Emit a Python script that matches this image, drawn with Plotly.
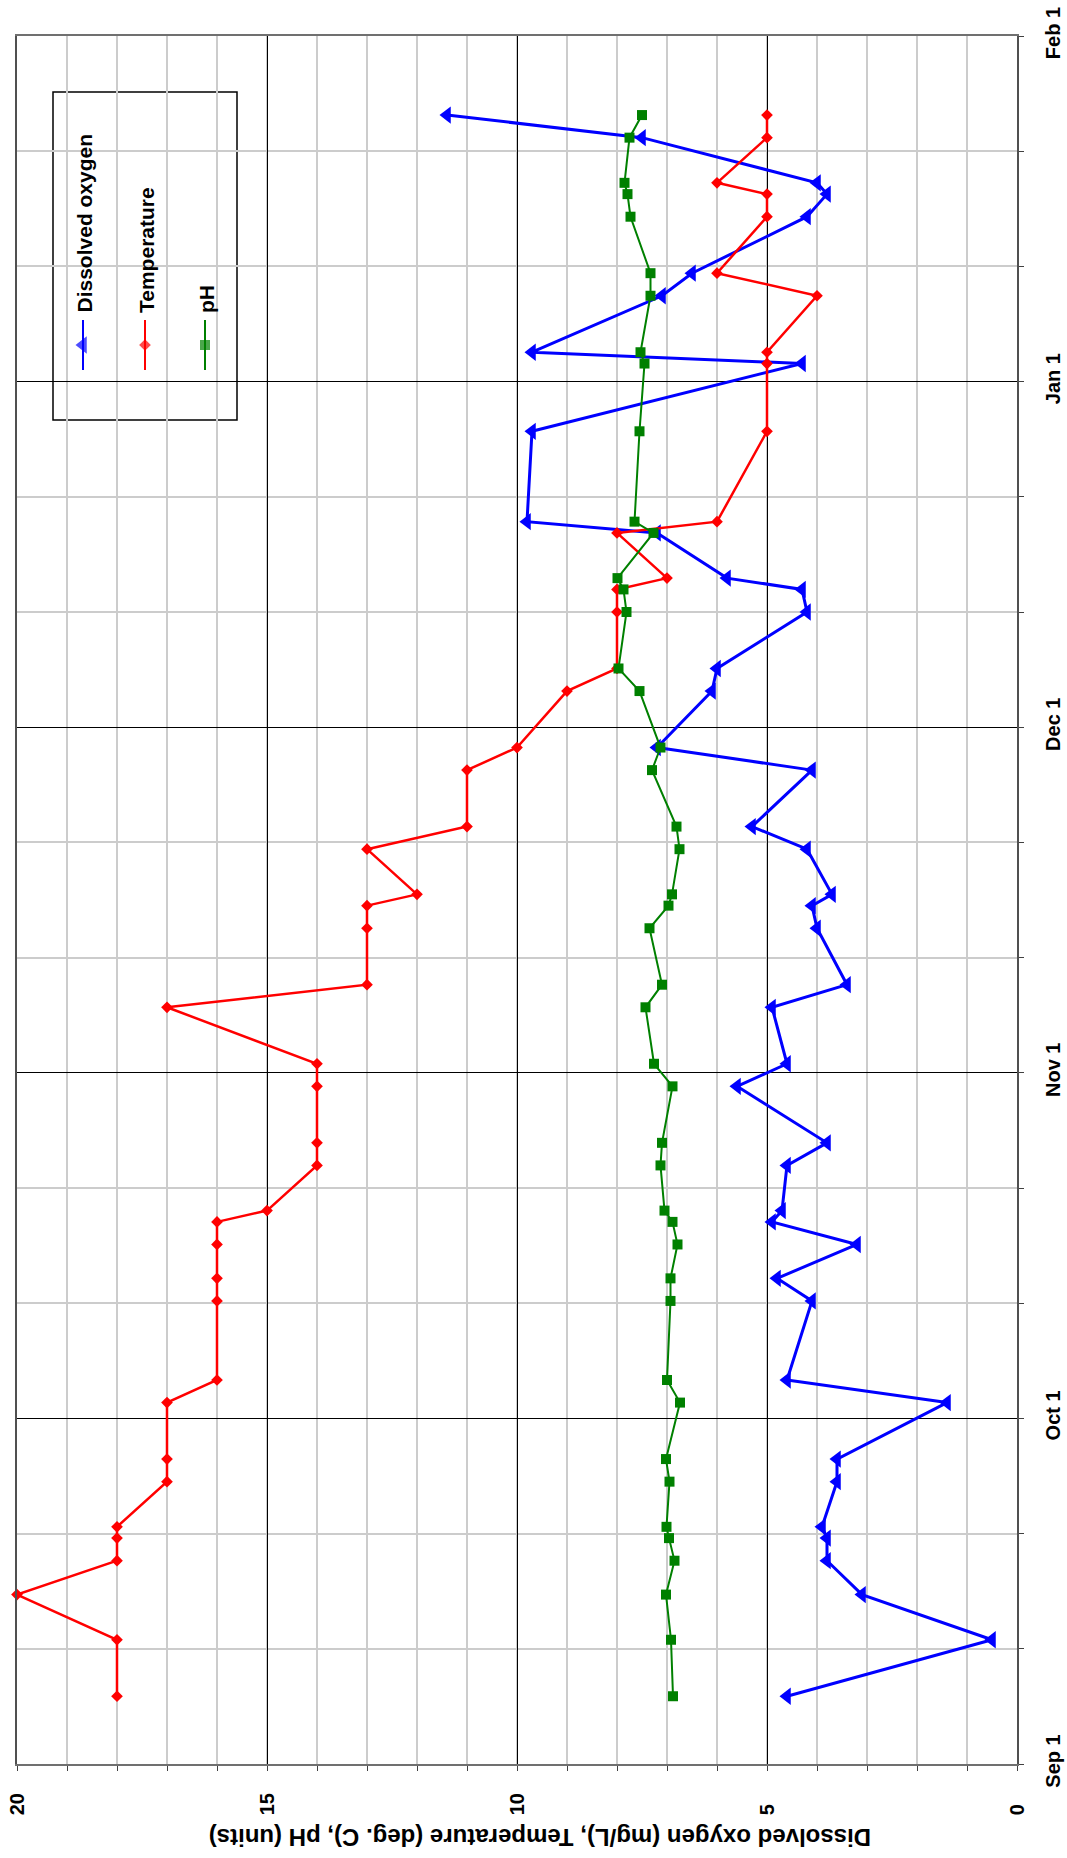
import datetime as dt
import plotly.graph_objects as go

# Sampling dates and field measurements
SAMPLE_DATES = [
    "2004-09-07", "2004-09-12", "2004-09-16", "2004-09-19", "2004-09-21",
    "2004-09-22", "2004-09-26", "2004-09-28", "2004-10-03", "2004-10-05",
    "2004-10-12", "2004-10-14", "2004-10-17", "2004-10-19", "2004-10-20",
    "2004-10-24", "2004-10-26", "2004-10-31", "2004-11-02", "2004-11-07",
    "2004-11-09", "2004-11-14", "2004-11-16", "2004-11-17", "2004-11-21",
    "2004-11-23", "2004-11-28", "2004-11-30", "2004-12-05", "2004-12-07",
    "2004-12-12", "2004-12-14", "2004-12-15", "2004-12-19", "2004-12-20",
    "2004-12-28", "2005-01-03", "2005-01-04", "2005-01-09", "2005-01-11",
    "2005-01-16", "2005-01-18", "2005-01-19", "2005-01-23", "2005-01-25",
]

DISSOLVED_OXYGEN = [
    4.6, 0.5, 3.1, 3.8, 3.8, 3.9, 3.6, 3.6, 1.4, 4.6,
    4.1, 4.8, 3.2, 4.9, 4.7, 4.6, 3.8, 5.6, 4.6, 4.9,
    3.4, 4.0, 4.1, 3.7, 4.2, 5.3, 4.1, 7.2, 6.1, 6.0,
    4.2, 4.3, 5.8, 7.2, 9.8, 9.7, 4.3, 9.7, 7.1, 6.5,
    4.2, 3.8, 4.0, 7.5, 11.4,
]

TEMPERATURE = [
    18, 18, 20, 18, 18, 18, 17, 17, 17, 16,
    16, 16, 16, 16, 15, 14, 14, 14, 14, 17,
    13, 13, 13, 12, 13, 11, 11, 10, 9, 8,
    8, 8, 7, 8, 6, 5, 5, 5, 4, 6,
    5, 5, 6, 5, 5,
]

PH = [
    6.88, 6.92, 7.02, 6.85, 6.96, 7.01, 6.95, 7.02, 6.74, 7.00,
    6.93, 6.93, 6.79, 6.89, 7.05, 7.13, 7.10, 6.89, 7.26, 7.43,
    7.10, 7.35, 6.97, 6.90, 6.75, 6.81, 7.30, 7.13, 7.55, 7.97,
    7.81, 7.87, 7.99, 7.27, 7.65, 7.55, 7.45, 7.53, 7.33, 7.33,
    7.73, 7.79, 7.85, 7.75, 7.50,
]

DATE_TICK_LABELS = ["Sep 1", "Oct 1", "Nov 1", "Dec 1", "Jan 1", "Feb 1"]
VALUE_TICKS = [0, 5, 10, 15, 20]
AXIS_START = "2004-09-01"
AXIS_END = "2005-02-01"

SERIES = [
    ("Dissolved oxygen", DISSOLVED_OXYGEN, "#0000ff", "triangle-left", 15, 3),
    ("Temperature", TEMPERATURE, "#ff0000", "diamond", 9, 2.5),
    ("pH", PH, "#008000", "square", 10, 2),
]

FONT = "Liberation Sans, Arial, Helvetica, sans-serif"
W, H = 1067, 1858
L, R, T, B = 17, 50, 36, 94

# Date axis divided into 5 major and 15 minor equal intervals
start = dt.datetime.fromisoformat(AXIS_START)
end = dt.datetime.fromisoformat(AXIS_END)
span = end - start
fmt = "%Y-%m-%d %H:%M:%S"
major_vals = [(start + span * k / 5).strftime(fmt) for k in range(6)]
minor_vals = [(start + span * k / 15).strftime(fmt) for k in range(16) if k % 3]

# Value labels share a common starting edge: short labels get an invisible pad digit
PAD = "<span style='color:rgba(0,0,0,0)'>0</span>"
value_text = [f"<b>{v}{PAD if v < 10 else ''}</b>" for v in VALUE_TICKS]

fig = go.Figure()

for name, values, color, symbol, size, width in SERIES:
    fig.add_trace(go.Scatter(
        x=values, y=SAMPLE_DATES, name=name, mode="lines+markers",
        line=dict(color=color, width=width),
        marker=dict(symbol=symbol, size=size, color=color, line=dict(width=0)),
        showlegend=False, cliponaxis=False,
    ))

# Legend keys drawn on an overlay axis in plot-area fractions
def px_x(px):
    return (px - L) / (W - L - R)


def px_y(py):
    return (H - B - py) / (H - T - B)


key_x = [83, 145, 205]
for (name, values, color, symbol, size, width), kx in zip(SERIES, key_x):
    fig.add_trace(go.Scatter(
        x=[px_x(kx)] * 3, y=[px_y(320), px_y(345), px_y(370)],
        xaxis="x2", yaxis="y2", mode="lines+markers",
        line=dict(color=color, width=2),
        marker=dict(symbol=symbol, size=[0, size, 0], color=color, line=dict(width=0)),
        showlegend=False, hoverinfo="skip",
    ))
    fig.add_annotation(
        xref="paper", yref="paper", x=px_x(kx + 1), y=px_y(315),
        text=f"<b>{name}</b>", textangle=-90, showarrow=False,
        xanchor="center", yanchor="bottom",
        font=dict(family=FONT, size=21, color="black"),
    )

fig.add_shape(
    type="rect", xref="paper", yref="paper",
    x0=px_x(53), x1=px_x(237), y0=px_y(420), y1=px_y(92),
    line=dict(color="black", width=1.5), fillcolor="white", layer="below",
)

# Axis title, upside down beneath the value axis
fig.add_annotation(
    xref="paper", yref="paper", x=px_x(540), y=px_y(1838),
    text="<b>Dissolved oxygen (mg/L), Temperature (deg. C), pH (units)</b>",
    textangle=180, showarrow=False, xanchor="center", yanchor="middle",
    font=dict(family=FONT, size=24, color="black"),
)

fig.update_layout(
    width=W, height=H,
    margin=dict(l=L, r=R, t=T, b=B, pad=0, autoexpand=False),
    paper_bgcolor="white", plot_bgcolor="white",
    font=dict(family=FONT, size=20, color="black"),
    xaxis=dict(
        range=[20, 0], tickmode="array", tickvals=VALUE_TICKS,
        ticktext=value_text, automargin=False,
        tickangle=-90, ticks="outside", ticklen=5, tickcolor="#404040",
        showgrid=True, gridcolor="#000000", gridwidth=1, zeroline=False,
        showline=True, linecolor="#707070", linewidth=2, mirror=True,
        minor=dict(dtick=1, showgrid=True, gridcolor="#cccccc", gridwidth=1.5,
                   ticks="outside", ticklen=5, tickcolor="#404040"),
        ticklabelstandoff=14,
    ),
    yaxis=dict(
        type="date", range=[AXIS_START, AXIS_END], side="right",
        tickmode="array", tickvals=major_vals, automargin=False,
        ticktext=[f"<b>{t}</b>" for t in DATE_TICK_LABELS],
        tickangle=-90, ticks="outside", ticklen=5, tickcolor="#404040",
        showgrid=True, gridcolor="#000000", gridwidth=1, zeroline=False,
        showline=True, linecolor="#505050", linewidth=2, mirror=True,
        minor=dict(tickmode="array", tickvals=minor_vals, showgrid=True,
                   gridcolor="#cccccc", gridwidth=2, ticks="outside",
                   ticklen=5, tickcolor="#404040"),
        ticklabelstandoff=12,
    ),
    xaxis2=dict(overlaying="x", range=[0, 1], visible=False, fixedrange=True),
    yaxis2=dict(overlaying="y", range=[0, 1], visible=False, fixedrange=True),
)

fig.write_html("out.html")
